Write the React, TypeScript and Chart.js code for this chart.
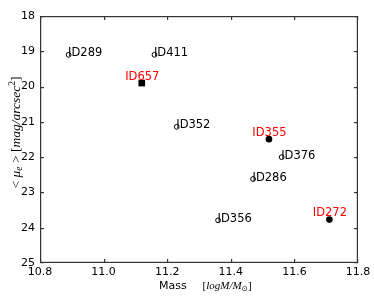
import React, { useEffect, useRef } from "react";
import { Chart, registerables } from "chart.js";

Chart.register(...registerables);

// Open circles (black labels)
const openIds = ["ID289", "ID411", "ID352", "ID376", "ID286", "ID356"];
const openMass = [10.89, 11.16, 11.23, 11.56, 11.47, 11.36];
const openMu = [19.1, 19.1, 21.14, 22.0, 22.62, 23.79];

// Filled circles (red labels)
const circleIds = ["ID355", "ID272"];
const circleMass = [11.52, 11.71];
const circleMu = [21.49, 23.77];

// Filled square (red label)
const squareIds = ["ID657"];
const squareMass = [11.12];
const squareMu = [19.9];

const xMin = 10.8;
const xMax = 11.8;
const xStep = 0.2;
const yMin = 18;
const yMax = 25;
const yStep = 1;

const SANS = '"DejaVu Sans", sans-serif';
const SERIF = '"Liberation Serif", serif';

type Run = { text: string; font: string; dy?: number };

function runsWidth(ctx: CanvasRenderingContext2D, runs: Run[]) {
  let w = 0;
  for (const r of runs) {
    ctx.font = r.font;
    w += ctx.measureText(r.text).width;
  }
  return w;
}

function drawRuns(ctx: CanvasRenderingContext2D, runs: Run[], x: number, y: number) {
  let cx = x;
  for (const r of runs) {
    ctx.font = r.font;
    ctx.fillText(r.text, cx, y + (r.dy || 0));
    cx += ctx.measureText(r.text).width;
  }
}

const labelPlugin = {
  id: "pointLabels",
  afterDatasetsDraw(chart: any) {
    const ctx = chart.ctx;
    ctx.save();
    ctx.font = `11.5px ${SANS}`;
    ctx.textBaseline = "alphabetic";
    chart.data.datasets.forEach((ds: any, di: number) => {
      const meta = chart.getDatasetMeta(di);
      meta.data.forEach((el: any, i: number) => {
        const name = ds.ids[i];
        if (ds.red) {
          ctx.fillStyle = "#ff0000";
          ctx.textAlign = "center";
          ctx.fillText(name, el.x + 0.5, el.y - 3.5);
        } else {
          ctx.fillStyle = "#000";
          ctx.textAlign = "left";
          ctx.fillText(name, el.x - 0.5, el.y + 1.5);
        }
      });
    });
    ctx.restore();
  },
};

const framePlugin = {
  id: "frameTitles",
  afterDraw(chart: any) {
    const ctx = chart.ctx;
    const area = chart.chartArea;
    const left = Math.round(area.left);
    const right = Math.round(area.right);
    const top = Math.round(area.top);
    const bottom = Math.round(area.bottom);
    const lw = 1.2;
    ctx.save();
    ctx.fillStyle = "#333333";
    // frame
    ctx.fillRect(left, top, right - left, lw);
    ctx.fillRect(left, bottom - lw, right - left, lw);
    ctx.fillRect(left, top, lw, bottom - top);
    ctx.fillRect(right - lw, top, lw, bottom - top);
    // inward ticks on all four sides
    const tl = 4;
    const xs = chart.scales.x;
    const ys = chart.scales.y;
    xs.ticks.forEach((t: any) => {
      const px = Math.min(Math.round(xs.getPixelForValue(t.value)), right - 1);
      ctx.fillRect(px, bottom - tl, lw, tl);
      ctx.fillRect(px, top, lw, tl);
    });
    ys.ticks.forEach((t: any) => {
      const py = Math.min(Math.round(ys.getPixelForValue(t.value)), bottom - 1);
      ctx.fillRect(left, py, tl, lw);
      ctx.fillRect(right - tl, py, tl, lw);
    });

    // axis titles
    ctx.fillStyle = "#000";
    ctx.textAlign = "left";
    ctx.textBaseline = "alphabetic";
    ctx.font = `11px ${SANS}`;
    ctx.fillText("Mass", 159, 289);
    const xRuns: Run[] = [
      { text: "[", font: `11px ${SERIF}` },
      { text: "logM/M", font: `italic 11px ${SERIF}` },
      { text: "\u2299", font: `7.5px ${SANS}`, dy: 2 },
      { text: "]", font: `11px ${SERIF}` },
    ];
    drawRuns(ctx, xRuns, 202.5, 289);

    const yRuns: Run[] = [
      { text: "< ", font: `13.5px ${SERIF}` },
      { text: "\u03bc", font: `italic 13.5px ${SERIF}` },
      { text: "e", font: `italic 9.5px ${SERIF}`, dy: 2 },
      { text: " > ", font: `13.5px ${SERIF}` },
      { text: "[", font: `13.5px ${SERIF}` },
      { text: "mag/arcsec", font: `italic 13.5px ${SERIF}` },
      { text: "2", font: `9.5px ${SERIF}`, dy: -5.5 },
      { text: "]", font: `13.5px ${SERIF}` },
    ];
    const w = runsWidth(ctx, yRuns);
    ctx.translate(20, 132.5);
    ctx.rotate(-Math.PI / 2);
    drawRuns(ctx, yRuns, -w / 2, 0);
    ctx.restore();
  },
};

export default function App() {
  const ref = useRef<HTMLCanvasElement | null>(null);
  useEffect(() => {
    if (!ref.current) return;
    const toPts = (xs: number[], ys: number[]) => xs.map((x, i) => ({ x, y: ys[i] }));
    const chart = new Chart(ref.current, {
      type: "scatter",
      data: {
        datasets: [
          { data: toPts(openMass, openMu), ids: openIds, red: false, pointStyle: "circle", pointRadius: 2.4, pointBackgroundColor: "#ffffff", pointBorderColor: "#000000", pointBorderWidth: 1 } as any,
          { data: toPts(circleMass, circleMu), ids: circleIds, red: true, pointStyle: "circle", pointRadius: 3.3, pointBackgroundColor: "#000000", pointBorderColor: "#000000", pointBorderWidth: 0 } as any,
          { data: toPts(squareMass, squareMu), ids: squareIds, red: true, pointStyle: "rect", pointRadius: 4.7, pointBackgroundColor: "#000000", pointBorderColor: "#000000", pointBorderWidth: 0 } as any,
        ],
      },
      options: {
        animation: false,
        responsive: false,
        devicePixelRatio: 1,
        layout: { padding: { top: 16, right: 16, left: 0, bottom: 0 } },
        plugins: { legend: { display: false }, tooltip: { enabled: false } },
        scales: {
          x: {
            type: "linear", min: xMin, max: xMax,
            grid: { display: false, drawTicks: false },
            border: { display: false },
            ticks: { stepSize: xStep, autoSkip: false, maxRotation: 0, padding: 3, color: "#000", font: { family: "DejaVu Sans", size: 11 }, callback: (v: any) => Number(v).toFixed(1) },
            afterFit: (s: any) => { s.height = 35; },
          },
          y: {
            type: "linear", reverse: true, min: yMin, max: yMax,
            grid: { display: false, drawTicks: false },
            border: { display: false },
            ticks: { stepSize: yStep, autoSkip: false, padding: 5, color: "#000", font: { family: "DejaVu Sans", size: 11 }, callback: (v: any) => String(Math.round(Number(v))) },
            afterFit: (s: any) => { s.width = 40; },
          },
        },
      } as any,
      plugins: [labelPlugin, framePlugin],
    });
    return () => chart.destroy();
  }, []);

  return (
    <div style={{ position: "absolute", left: 0, top: 0, width: 374, height: 298, background: "#fff" }}>
      <canvas ref={ref} width={374} height={298} style={{ display: "block" }} />
    </div>
  );
}
